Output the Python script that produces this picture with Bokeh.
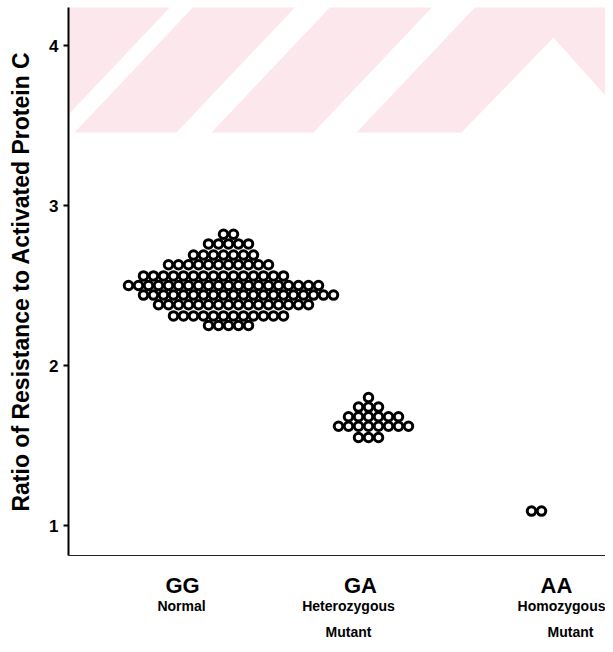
from bokeh.plotting import figure
from bokeh.models import Range1d, LinearAxis, FixedTicker, PolyAnnotation
from bokeh.embed import file_html
from bokeh.resources import INLINE

# ---- data ----
genotypes = ["GG", "GA", "AA"]
phenotypes = ["Normal", "Heterozygous", "Homozygous"]
phenotypes_2 = ["", "Mutant", "Mutant"]

gg_levels = [2.82, 2.76, 2.69, 2.63, 2.56, 2.50, 2.44, 2.38, 2.31, 2.25]
gg_counts = [2, 5, 7, 11, 15, 20, 20, 16, 12, 5]
ga_levels = [1.80, 1.74, 1.68, 1.62, 1.55]
ga_counts = [1, 3, 6, 8, 3]
aa_levels = [1.09]
aa_counts = [2]

y_ticks = [1, 2, 3, 4]
y_title = "Ratio of Resistance to Activated Protein C"

# ---- layout (positions on the arbitrary x scale) ----
W, H = 605, 644
ML, MT, MB = 68, 7, 89
X0, X1 = 0.0, 5.37
Y0, Y1 = 0.8125, 4.2375
group_x = [1.60, 3.00, 4.68]
genotype_label_x = [1.14, 2.92, 4.88]
phenotype_label_x = [1.13, 2.80, 5.02]
row_shift = [
    [0, 0, -0.5, -1, -1.5, -0.5, 1, 0.5, 0, 0],
    [0, 0, 0.5, 0.5, 0],
    [0],
]
DX = 0.10

FONT = "Liberation Sans"

p = figure(width=W, height=H, x_range=Range1d(X0, X1), y_range=Range1d(Y0, Y1),
           output_backend="svg", toolbar_location=None,
           x_axis_type=None, y_axis_type=None,
           min_border_left=ML, min_border_right=0, min_border_top=MT, min_border_bottom=MB)
p.grid.visible = False
p.outline_line_color = None
p.background_fill_color = "white"
p.border_fill_color = "white"

# faint pink watermark stripes in the upper part (decoration, given in canvas pixels)
frame_w, frame_h = W - ML, H - MT - MB


def fx(px):
    return X0 + (px - ML) / frame_w * (X1 - X0)


def fy(py):
    return Y1 - (py - MT) / frame_h * (Y1 - Y0)


pink = "#fce8ec"
stripes = [
    ([-57, 51, 176, 68], [132, 132, 0, 0]),
    ([74, 176, 301, 199], [132, 132, 0, 0]),
    ([211, 313, 438, 336], [132, 132, 0, 0]),
    ([356, 461, 553, 620, 620, 481], [132, 132, 37, 112, 0, 0]),
]
for sx, sy in stripes:
    p.add_layout(PolyAnnotation(xs=[fx(v) for v in sx], ys=[fy(v) for v in sy],
                                fill_color=pink, fill_alpha=1.0, line_color=None,
                                level="underlay"))

# dots
xs, ys = [], []
for gi, (levels, counts) in enumerate([(gg_levels, gg_counts), (ga_levels, ga_counts), (aa_levels, aa_counts)]):
    for ri, (lv, n) in enumerate(zip(levels, counts)):
        for k in range(n):
            xs.append(group_x[gi] + (k - (n - 1) / 2 + row_shift[gi][ri]) * DX)
            ys.append(lv)
p.scatter(xs, ys, size=8.5, fill_color="white", line_color="black", line_width=3)

# y axis
yax = LinearAxis(ticker=FixedTicker(ticks=y_ticks), axis_label=y_title)
yax.axis_line_width = 2
yax.axis_line_color = "black"
yax.major_tick_line_width = 2
yax.major_tick_line_color = "black"
yax.major_tick_out = 5
yax.major_tick_in = 0
yax.minor_tick_line_color = None
yax.major_label_text_font = FONT
yax.major_label_text_font_style = "bold"
yax.major_label_text_font_size = "17px"
yax.major_label_text_color = "black"
yax.major_label_standoff = 5
yax.axis_label_text_font = FONT
yax.axis_label_text_font_style = "bold"
yax.axis_label_text_font_size = "23px"
yax.axis_label_text_color = "black"
yax.axis_label_standoff = 12
p.add_layout(yax, "left")

# x axes (category labels)
ax1 = LinearAxis(ticker=FixedTicker(ticks=genotype_label_x),
                 major_label_overrides={x: t for x, t in zip(genotype_label_x, genotypes)})
ax1.axis_line_color = "#222222"
ax1.axis_line_width = 1
ax1.major_tick_line_color = None
ax1.major_tick_out = 0
ax1.major_tick_in = 0
ax1.minor_tick_line_color = None
ax1.major_label_text_font = FONT
ax1.major_label_text_font_style = "bold"
ax1.major_label_text_font_size = "22px"
ax1.major_label_text_color = "black"
ax1.major_label_standoff = 17
p.add_layout(ax1, "below")

ax2 = LinearAxis(ticker=FixedTicker(ticks=phenotype_label_x),
                 major_label_overrides={x: t for x, t in zip(phenotype_label_x, phenotypes)})
ax3_x = [x for x, t in zip(phenotype_label_x, phenotypes_2) if t]
ax3 = LinearAxis(ticker=FixedTicker(ticks=ax3_x),
                 major_label_overrides={x: t for x, t in zip(phenotype_label_x, phenotypes_2) if t})
for ax, so in ((ax2, -3), (ax3, 7)):
    ax.axis_line_color = None
    ax.major_tick_line_color = None
    ax.major_tick_out = 0
    ax.major_tick_in = 0
    ax.minor_tick_line_color = None
    ax.major_label_text_font = FONT
    ax.major_label_text_font_style = "bold"
    ax.major_label_text_font_size = "14px"
    ax.major_label_text_color = "black"
    ax.major_label_standoff = so
    p.add_layout(ax, "below")

open("out.html", "w").write(file_html(p, INLINE))
